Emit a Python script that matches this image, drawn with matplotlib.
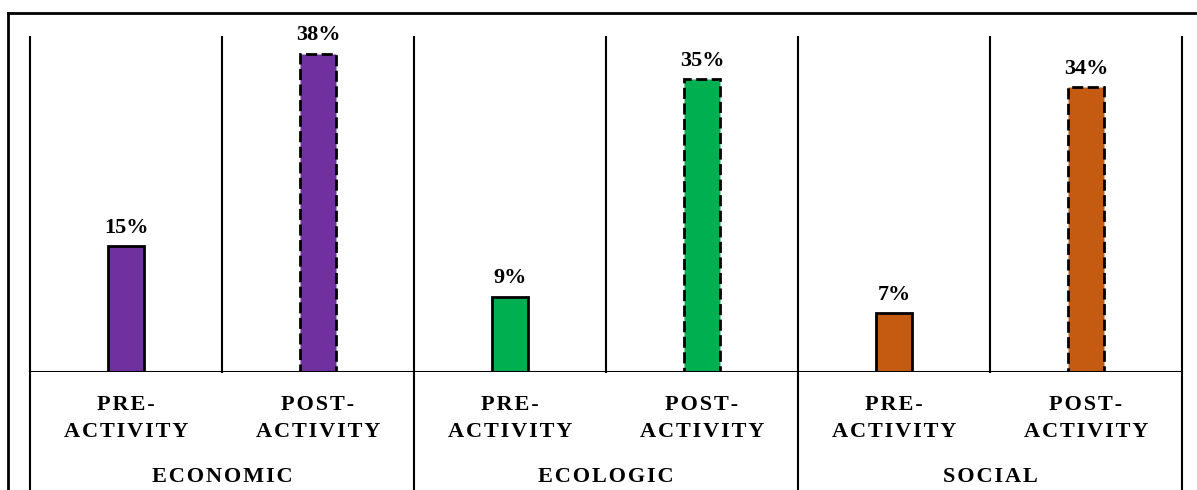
import numpy as np
import matplotlib.pyplot as plt
from matplotlib.lines import Line2D

# Share of respondents per dimension, before and after the activity
groups = ['ECONOMIC', 'ECOLOGIC', 'SOCIAL']
phases = ['PRE-\nACTIVITY', 'POST-\nACTIVITY']
pre_values = [0.15, 0.09, 0.07]
post_values = [0.38, 0.35, 0.34]
group_colors = ['#7030A0', '#00B050', '#C55A11']

plt.rcParams['font.family'] = ['Liberation Serif', 'DejaVu Serif']
plt.rcParams['font.weight'] = 'bold'


def spaced(text):
    # widen the tracking of the caps labels
    return '\n'.join('\u200a'.join(line) for line in text.split('\n'))


fig = plt.figure(figsize=(11.97, 4.90), dpi=100)
ax = fig.add_axes([30 / 1197, 1 - 372 / 490, 1152 / 1197, 335 / 490])

n = len(groups)
x = np.arange(2 * n)
bar_w = 0.19
for i in range(n):
    xp, xq = x[2 * i], x[2 * i + 1]
    ax.bar(xp, pre_values[i], width=bar_w, color=group_colors[i],
           edgecolor='black', linewidth=2)
    ax.bar(xq, post_values[i], width=bar_w, color=group_colors[i],
           edgecolor='black', linewidth=2, linestyle=(0, (4, 1.6)))
    for xx, v in ((xp, pre_values[i]), (xq, post_values[i])):
        ax.text(xx, v + 0.01, f'{v:.0%}', ha='center', va='bottom',
                fontsize=16, fontweight='bold')

ax.set_xlim(-0.5, 2 * n - 0.5)
ax.set_ylim(0, 0.40)
ax.set_yticks([])
ax.set_xticks([])
for s in ax.spines.values():
    s.set_visible(False)

# baseline and vertical separators between categories
ax.axhline(0, color='black', lw=1.5)
for b in np.arange(-0.5, 2 * n, 1.0):
    ax.plot([b, b], [0, 0.40], color='black', lw=1.5, clip_on=False)

# category labels below the baseline
trans = ax.get_xaxis_transform()
for k in range(2 * n):
    ax.text(x[k], -0.068, spaced(phases[k % 2]), transform=trans, ha='center',
            va='top', fontsize=16, fontweight='bold', linespacing=1.45)
for i in range(n):
    ax.text(2 * i + 0.5, -0.285, spaced(groups[i]), transform=trans,
            ha='center', va='top', fontsize=16, fontweight='bold')

# group separators running down to the bottom edge
for b in np.arange(-0.5, 2 * n, 2.0):
    ax.plot([b, b], [0, -0.4], transform=trans, color='black', lw=1.5,
            clip_on=False)

# outer frame (top and left edges)
fig.add_artist(Line2D([8 / 1197, 1.0], [1 - 13 / 490] * 2, color='black', lw=2))
fig.add_artist(Line2D([8 / 1197] * 2, [0, 1 - 13 / 490], color='black', lw=2))

fig.savefig('out.png', dpi=100)
